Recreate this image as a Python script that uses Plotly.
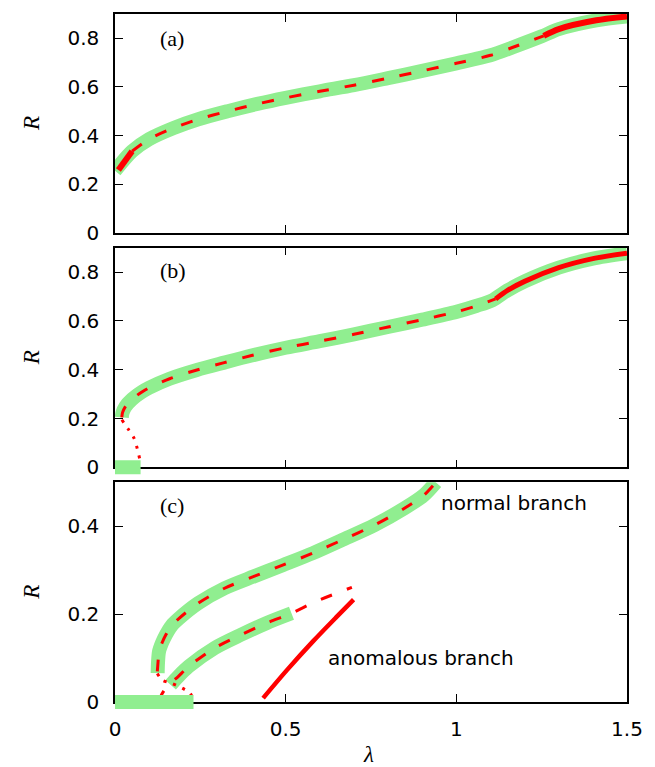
import plotly.graph_objects as go

# ---------------- data ----------------
# panel (a)
a_green_x = [0.0, 0.05, 0.10, 0.17, 0.244, 0.33, 0.417, 0.50, 0.60, 0.70, 0.80, 0.90, 1.00, 1.10, 1.164, 1.25, 1.30, 1.41, 1.50]
a_green_y = [0.255, 0.335, 0.385, 0.43, 0.467, 0.50, 0.53, 0.555, 0.582, 0.607, 0.636, 0.666, 0.697, 0.73, 0.762, 0.808, 0.838, 0.874, 0.89]
a_red_solid1_x = [0.01, 0.05]
a_red_solid1_y = [0.258, 0.335]
a_red_dash_x = [0.05, 0.10, 0.17, 0.244, 0.33, 0.417, 0.50, 0.60, 0.70, 0.80, 0.90, 1.00, 1.10, 1.164, 1.256]
a_red_dash_y = [0.335, 0.385, 0.43, 0.467, 0.50, 0.53, 0.555, 0.582, 0.607, 0.636, 0.666, 0.697, 0.73, 0.762, 0.81]
a_red_solid2_x = [1.256, 1.30, 1.41, 1.50]
a_red_solid2_y = [0.81, 0.838, 0.874, 0.89]

# panel (b)
b_green0_x = [0.0, 0.075]
b_green0_y = [0.0, 0.0]
b_green_x = [0.02, 0.022, 0.03, 0.05, 0.08, 0.10, 0.16, 0.24, 0.32, 0.40, 0.50, 0.60, 0.70, 0.80, 0.90, 1.00, 1.06, 1.106, 1.15, 1.20, 1.30, 1.40, 1.50]
b_green_y = [0.205, 0.224, 0.248, 0.279, 0.31, 0.326, 0.363, 0.399, 0.429, 0.458, 0.49, 0.517, 0.545, 0.575, 0.605, 0.637, 0.662, 0.685, 0.725, 0.762, 0.818, 0.855, 0.877]
b_red_dash_x = [0.02, 0.022, 0.03, 0.05, 0.08, 0.10, 0.16, 0.24, 0.32, 0.40, 0.50, 0.60, 0.70, 0.80, 0.90, 1.00, 1.06, 1.115]
b_red_dash_y = [0.205, 0.224, 0.248, 0.279, 0.31, 0.326, 0.363, 0.399, 0.429, 0.458, 0.49, 0.517, 0.545, 0.575, 0.605, 0.637, 0.662, 0.69]
b_red_solid_x = [1.115, 1.15, 1.20, 1.30, 1.40, 1.50]
b_red_solid_y = [0.69, 0.725, 0.762, 0.818, 0.855, 0.877]
b_red_dot_x = [0.02, 0.041, 0.056, 0.065, 0.072, 0.075]
b_red_dot_y = [0.195, 0.152, 0.119, 0.078, 0.037, 0.02]

# panel (c)
c_green0_x = [0.0, 0.23]
c_green0_y = [0.0, 0.0]
c_green_norm_x = [0.125, 0.126, 0.129, 0.138, 0.149, 0.165, 0.187, 0.244, 0.321, 0.407, 0.493, 0.580, 0.666, 0.761, 0.848, 0.905, 0.94]
c_green_norm_y = [0.066, 0.09, 0.115, 0.135, 0.153, 0.173, 0.19, 0.225, 0.259, 0.286, 0.312, 0.339, 0.369, 0.403, 0.441, 0.471, 0.50]
c_red_norm_dash_x = [0.124, 0.126, 0.129, 0.138, 0.149, 0.165, 0.187, 0.244, 0.321, 0.407, 0.493, 0.580, 0.666, 0.761, 0.848, 0.905, 0.94]
c_red_norm_dash_y = [0.07, 0.09, 0.115, 0.135, 0.153, 0.173, 0.19, 0.225, 0.259, 0.286, 0.312, 0.339, 0.369, 0.403, 0.441, 0.471, 0.50]
c_red_dot_x = [0.124, 0.138, 0.164, 0.196, 0.22, 0.23]
c_red_dot_y = [0.065, 0.05, 0.043, 0.032, 0.02, 0.004]
c_green_anom_x = [0.163, 0.185, 0.216, 0.292, 0.369, 0.445, 0.517]
c_green_anom_y = [0.039, 0.058, 0.081, 0.123, 0.153, 0.180, 0.202]
c_red_anom_dash_x = [0.13, 0.134, 0.149, 0.163, 0.185, 0.216, 0.292, 0.369, 0.445, 0.517, 0.589, 0.694]
c_red_anom_dash_y = [0.0, 0.013, 0.032, 0.043, 0.058, 0.081, 0.123, 0.153, 0.180, 0.202, 0.229, 0.261]
c_red_anom_solid_x = [0.434, 0.503, 0.580, 0.647, 0.699]
c_red_anom_solid_y = [0.009, 0.072, 0.138, 0.192, 0.233]

x_ticks = [0, 0.5, 1, 1.5]
x_ticktext = ["0", "0.5", "1", "1.5"]
y_ticks_ab = [0, 0.2, 0.4, 0.6, 0.8]
y_ticktext_ab = ["0", "0.2", "0.4", "0.6", "0.8"]
y_ticks_c = [0, 0.2, 0.4]
y_ticktext_c = ["0", "0.2", "0.4"]

# ---------------- layout geometry ----------------
W, H = 655, 767
ML, MR, MT, MB = 115, 18, 13, 45
PH = H - MT - MB
PW = W - ML - MR
BASE = H - MB  # pixel row of paper y=0


def pdom(top_px, bot_px):
    return [(BASE - bot_px) / PH, (BASE - top_px) / PH]


domA = pdom(13, 232)
domB = pdom(247, 467)
domC = pdom(482, 702)
EXT = 10  # px extension below zero for the zero bands
extB = [domB[0] - EXT / PH, domB[1]]
extC = [domC[0] - EXT / PH, domC[1]]
unitB = (467 - 247) / 0.9
unitC = (702 - 482) / 0.5

GREEN = "#90ee90"
RED = "#ff0000"
DASH = "12px,16px"
DOT = "3px,7px"

fig = go.Figure()


def add(x, y, xa, ya, color, width, dash="solid", shape="spline"):
    fig.add_trace(go.Scatter(x=x, y=y, xaxis=xa, yaxis=ya, mode="lines",
                             line=dict(color=color, width=width, dash=dash, shape=shape,
                                       smoothing=0.8),
                             hoverinfo="skip", showlegend=False))


# panel (a)
add(a_green_x, a_green_y, "x", "y", GREEN, 14)
add(a_red_solid1_x, a_red_solid1_y, "x", "y", RED, 6, shape="linear")
add(a_red_dash_x, a_red_dash_y, "x", "y", RED, 3, DASH)
add(a_red_solid2_x, a_red_solid2_y, "x", "y", RED, 6)

# panel (b)
add(b_green0_x, b_green0_y, "x2", "y4", GREEN, 14, shape="linear")
add(b_green_x, b_green_y, "x2", "y2", GREEN, 14)
add(b_red_dash_x, b_red_dash_y, "x2", "y2", RED, 3, DASH)
add(b_red_solid_x, b_red_solid_y, "x2", "y2", RED, 5)
add(b_red_dot_x, b_red_dot_y, "x2", "y2", RED, 3, DOT)

# panel (c)
add(c_green0_x, c_green0_y, "x3", "y5", GREEN, 14, shape="linear")
add(c_green_norm_x, c_green_norm_y, "x3", "y3", GREEN, 14)
add(c_green_anom_x, c_green_anom_y, "x3", "y3", GREEN, 14)
add(c_red_norm_dash_x, c_red_norm_dash_y, "x3", "y3", RED, 3, DASH)
add(c_red_dot_x, c_red_dot_y, "x3", "y3", RED, 3, DOT)
add(c_red_anom_dash_x, c_red_anom_dash_y, "x3", "y3", RED, 3, DASH)
add(c_red_anom_solid_x, c_red_anom_solid_y, "x3", "y3", RED, 4.5)

TICKFONT = dict(family="DejaVu Sans", size=20, color="black")

xcommon = dict(range=[0, 1.5], tickvals=x_ticks, ticktext=x_ticktext, ticks="inside",
               ticklen=8, tickwidth=1, tickcolor="black", showline=True, linecolor="black",
               linewidth=1.5, mirror="ticks", showgrid=False, zeroline=False,
               tickfont=TICKFONT, ticklabelstandoff=8)
ycommon = dict(ticks="inside", ticklen=8, tickwidth=1, tickcolor="black", showline=True,
               linecolor="black", linewidth=1.5, mirror="ticks", showgrid=False,
               zeroline=False, tickfont=TICKFONT, ticklabelstandoff=10)

fig.update_layout(
    width=W, height=H,
    margin=dict(l=ML, r=MR, t=MT, b=MB),
    plot_bgcolor="rgba(0,0,0,0)", paper_bgcolor="white",
    showlegend=False, hovermode=False,
    xaxis=dict(domain=[0, 1], anchor="y", showticklabels=False, **xcommon),
    xaxis2=dict(domain=[0, 1], anchor="y2", showticklabels=False, **xcommon),
    xaxis3=dict(domain=[0, 1], anchor="y3", showticklabels=True, **xcommon),
    yaxis=dict(domain=domA, anchor="x", range=[0, 0.9], tickvals=y_ticks_ab,
               ticktext=y_ticktext_ab, **ycommon),
    yaxis2=dict(domain=domB, anchor="x2", range=[0, 0.9], tickvals=y_ticks_ab,
                ticktext=y_ticktext_ab, **ycommon),
    yaxis3=dict(domain=domC, anchor="x3", range=[0, 0.5], tickvals=y_ticks_c,
                ticktext=y_ticktext_c, **ycommon),
    yaxis4=dict(domain=extB, anchor="x2", range=[-EXT / unitB, 0.9], visible=False),
    yaxis5=dict(domain=extC, anchor="x3", range=[-EXT / unitC, 0.5], visible=False),
)

SERIF = "Liberation Serif"
ann = []
for lab, xr, yr, yv in [("(a)", "x", "y", 0.80), ("(b)", "x2", "y2", 0.808), ("(c)", "x3", "y3", 0.448)]:
    ann.append(dict(text=lab, x=0.125, y=yv, xref=xr, yref=yr, xanchor="left", yanchor="middle",
                    showarrow=False, font=dict(family=SERIF, size=22, color="black")))
for dom in (domA, domB, domC):
    ann.append(dict(text="<i>R</i>", x=(30 - ML) / PW, y=(dom[0] + dom[1]) / 2,
                    xref="paper", yref="paper", textangle=-90, xanchor="center",
                    yanchor="middle", showarrow=False,
                    font=dict(family=SERIF, size=23, color="black")))
ann.append(dict(text="<i>λ</i>", x=(373 - ML) / PW, y=(BASE - 755) / PH, xref="paper",
                yref="paper", xanchor="center", yanchor="middle", showarrow=False,
                font=dict(family=SERIF, size=23, color="black")))
ann.append(dict(text="normal branch", x=0.948, y=0.452, xref="x3", yref="y3", xanchor="left",
                yanchor="middle", showarrow=False, font=dict(family="DejaVu Sans", size=20, color="black")))
ann.append(dict(text="anomalous branch", x=0.618, y=0.10, xref="x3", yref="y3", xanchor="left",
                yanchor="middle", showarrow=False, font=dict(family="DejaVu Sans", size=20, color="black")))
fig.update_layout(annotations=ann)

fig.write_html("out.html")
